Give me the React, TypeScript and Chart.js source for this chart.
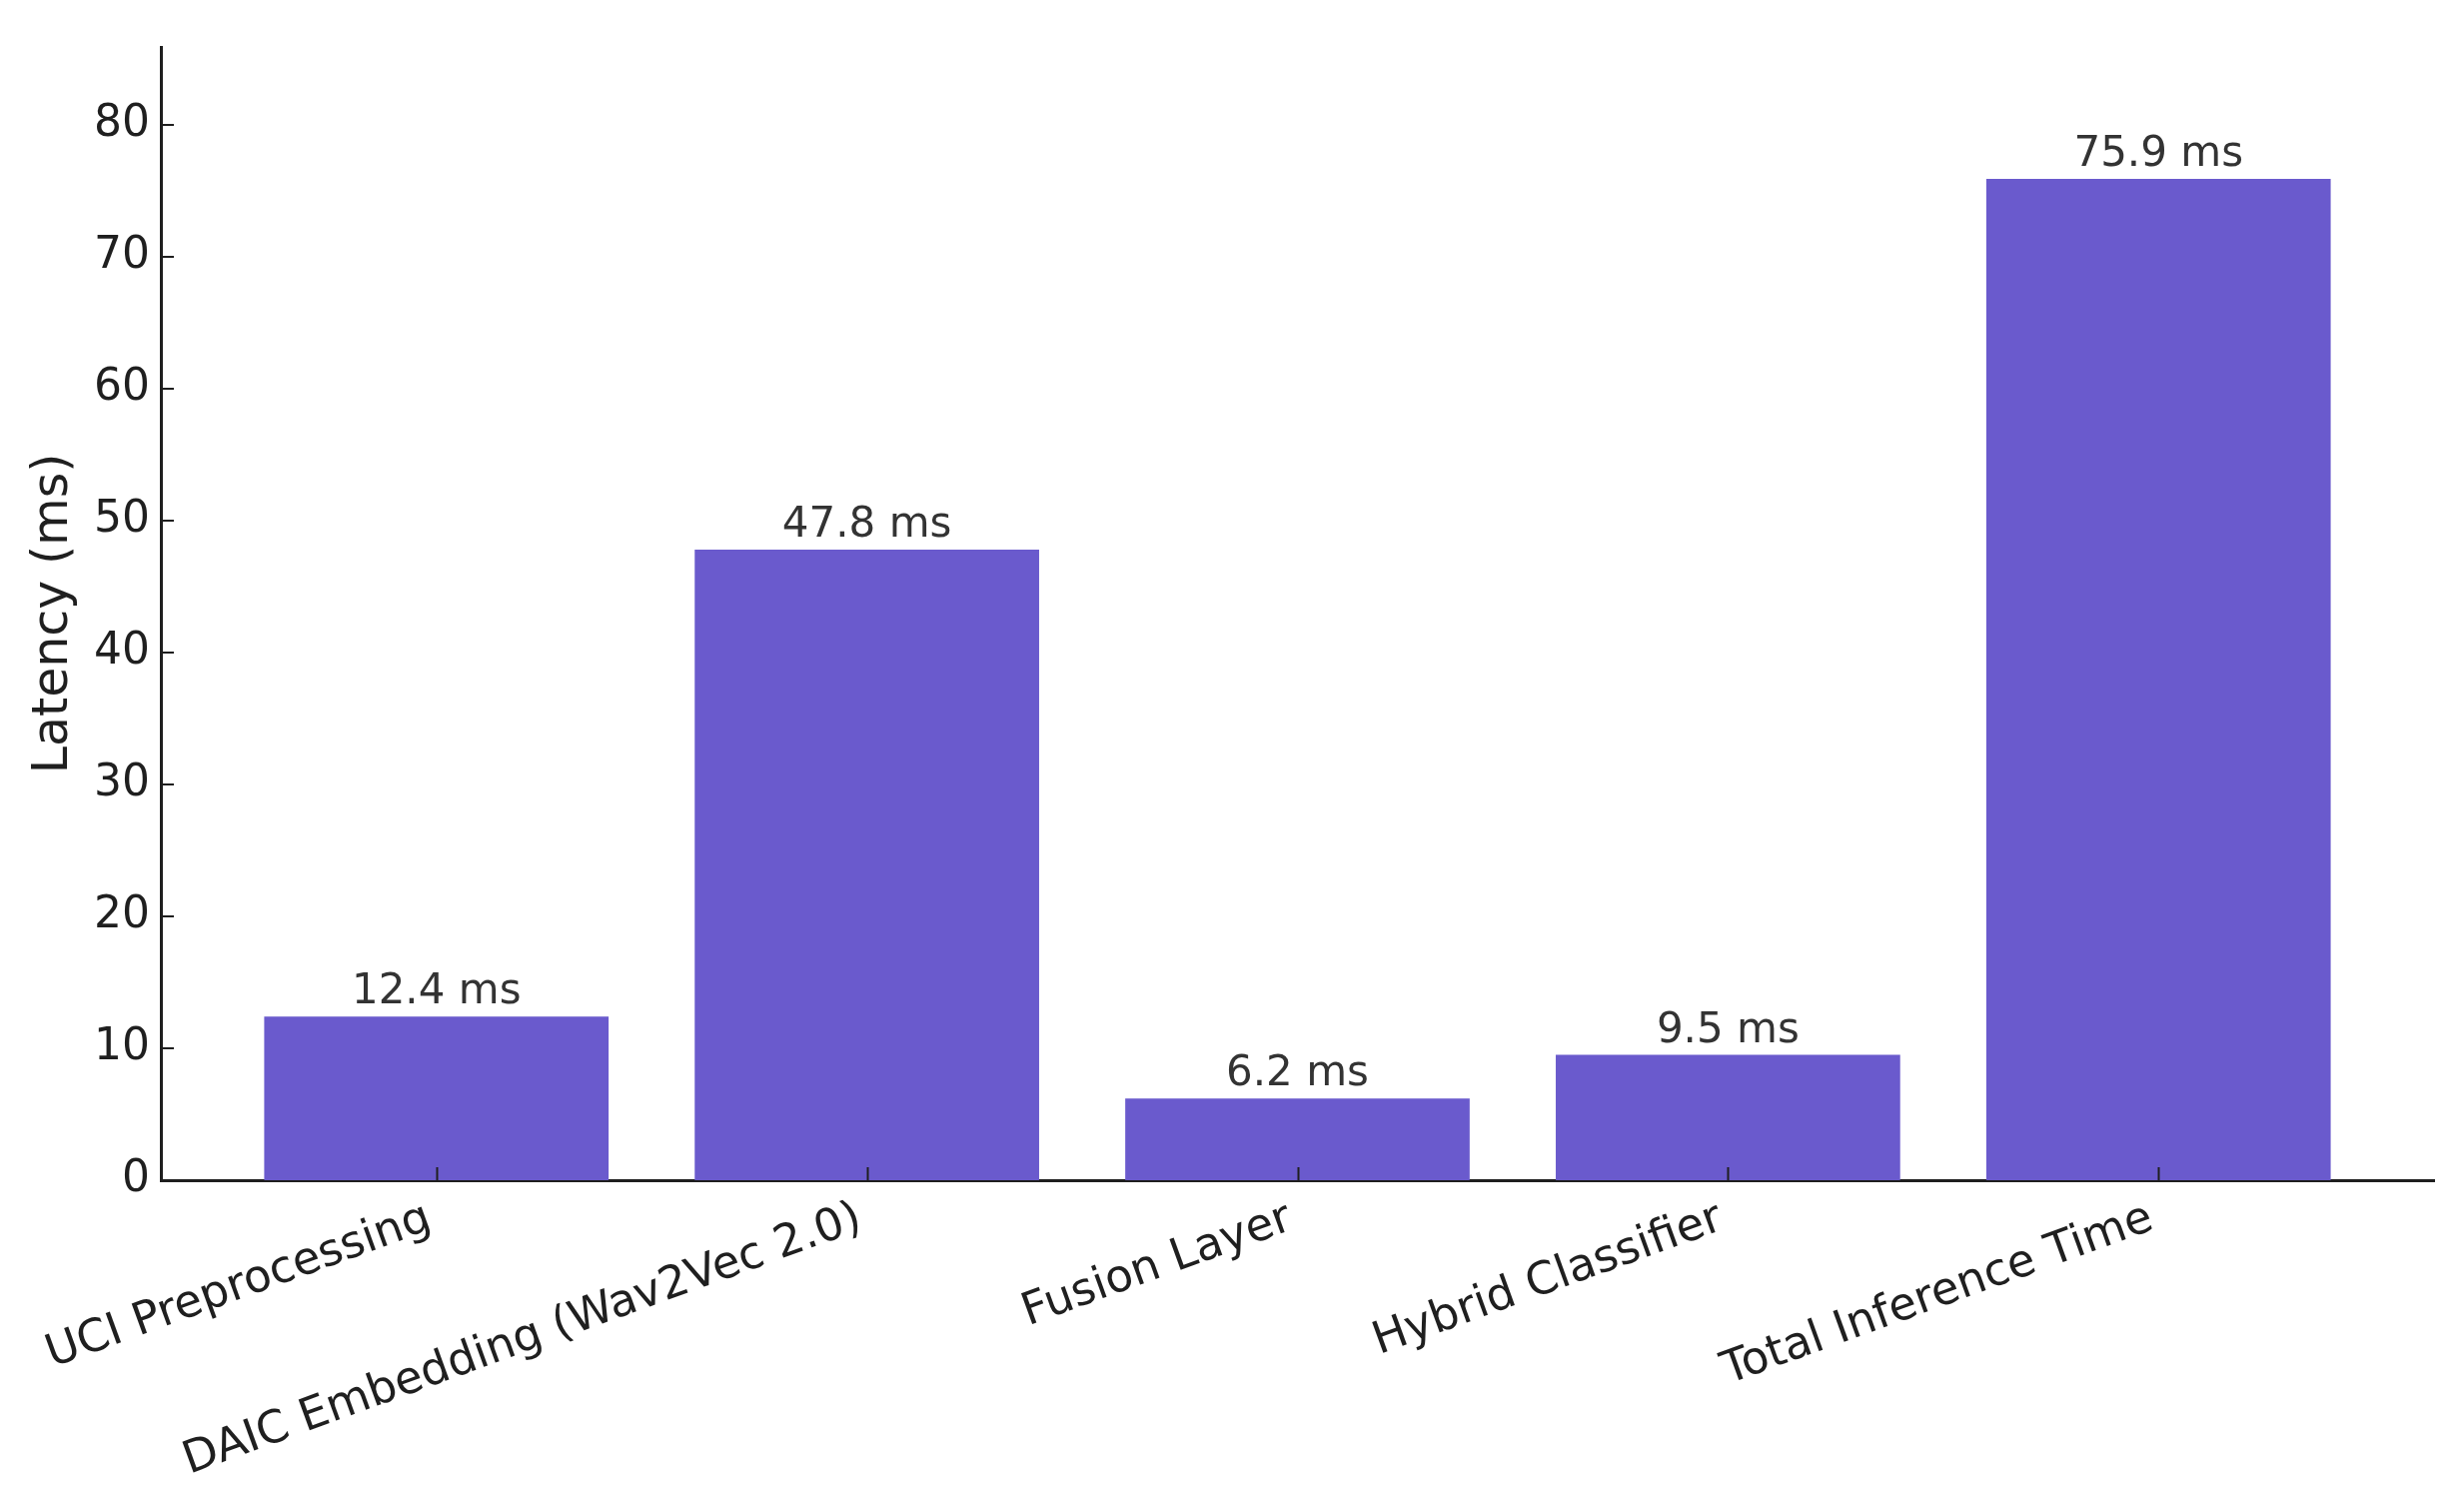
import React, { useEffect, useRef } from "react";
import { Chart, registerables } from "chart.js";

Chart.register(...registerables);

const categories = [
  "UCI Preprocessing",
  "DAIC Embedding (Wav2Vec 2.0)",
  "Fusion Layer",
  "Hybrid Classifier",
  "Total Inference Time",
];
const latencies = [12.4, 47.8, 6.2, 9.5, 75.9];
const yTickValues = [0, 10, 20, 30, 40, 50, 60, 70, 80];
const yMax = 85.9;
const yTitle = "Latency (ms)";
const unit = "ms";

const W = 2466;
const H = 1491;
const FONT = "'DejaVu Sans', sans-serif";
const BAR = "#6A5ACD";
const INK = "#1f1f1f";
const LABEL_NUDGE = -7;

const innerTicks = {
  id: "innerTicks",
  afterDatasetsDraw(chart: any) {
    const { ctx, chartArea, scales } = chart;
    const x = scales.x;
    const y = scales.y;
    ctx.save();
    ctx.strokeStyle = INK;
    ctx.lineWidth = 2;
    const len = 13;
    categories.forEach((_, i) => {
      const px = Math.round(x.getPixelForValue(i)) + 0.5;
      ctx.beginPath();
      ctx.moveTo(px, chartArea.bottom);
      ctx.lineTo(px, chartArea.bottom - len);
      ctx.stroke();
    });
    yTickValues.forEach((v) => {
      const py = Math.round(y.getPixelForValue(v));
      ctx.beginPath();
      ctx.moveTo(chartArea.left, py);
      ctx.lineTo(chartArea.left + len, py);
      ctx.stroke();
    });
    // value labels
    ctx.fillStyle = "#333333";
    ctx.font = `42px ${FONT}`;
    ctx.textAlign = "center";
    ctx.textBaseline = "alphabetic";
    const meta = chart.getDatasetMeta(0);
    meta.data.forEach((el: any, i: number) => {
      ctx.fillText(`${latencies[i]} ${unit}`, el.x, el.y - 13);
    });
    ctx.restore();
  },
};

export default function App() {
  const ref = useRef<HTMLCanvasElement | null>(null);
  useEffect(() => {
    if (!ref.current) return;
    const chart = new Chart(ref.current, {
      type: "bar",
      data: {
        datasets: [
          {
            data: latencies.map((v, i) => ({ x: i, y: v })),
            backgroundColor: BAR,
            borderWidth: 0,
            barPercentage: 0.8,
            categoryPercentage: 1.0,
          },
        ],
      },
      options: {
        responsive: false,
        animation: false,
        devicePixelRatio: 1,
        layout: { padding: { top: 47, right: 30, left: 0, bottom: 0 } },
        plugins: {
          legend: { display: false },
          tooltip: { enabled: false },
        },
        scales: {
          x: {
            type: "linear",
            offset: false,
            min: -0.64,
            max: 4.64,
            grid: { display: false, drawTicks: false, offset: false },
            border: { display: true, color: INK, width: 3 },
            afterBuildTicks: (scale: any) => {
              scale.ticks = categories.map((_, i) => ({ value: i }));
            },
            afterFit: (scale: any) => {
              scale.height = H - 1181;
              if (!scale._nudged) {
                const orig = scale.getPixelForTick.bind(scale);
                scale.getPixelForTick = (i: number) => orig(i) + LABEL_NUDGE;
                scale._nudged = true;
              }
            },
            ticks: {
              autoSkip: false,
              minRotation: 20,
              maxRotation: 20,
              padding: 12,
              color: INK,
              font: { family: FONT, size: 45 },
              callback: (v: any) => categories[v] ?? "",
            },
          },
          y: {
            type: "linear",
            min: 0,
            max: yMax,
            grid: { display: false, drawTicks: false },
            border: { display: true, color: INK, width: 3 },
            afterBuildTicks: (scale: any) => {
              scale.ticks = yTickValues.map((v) => ({ value: v }));
            },
            afterFit: (scale: any) => {
              scale.width = 161;
            },
            ticks: {
              padding: 11,
              color: INK,
              font: { family: FONT, size: 44 },
            },
            title: {
              display: true,
              text: yTitle,
              color: INK,
              font: { family: FONT, size: 49 },
              padding: { top: 25, bottom: 0 },
            },
          },
        },
      },
      plugins: [innerTicks],
    });
    return () => chart.destroy();
  }, []);
  return (
    <div style={{ position: "fixed", left: 0, top: 0, width: W, height: H, background: "#fff" }}>
      <canvas ref={ref} width={W} height={H} style={{ width: W, height: H, display: "block" }} />
    </div>
  );
}
